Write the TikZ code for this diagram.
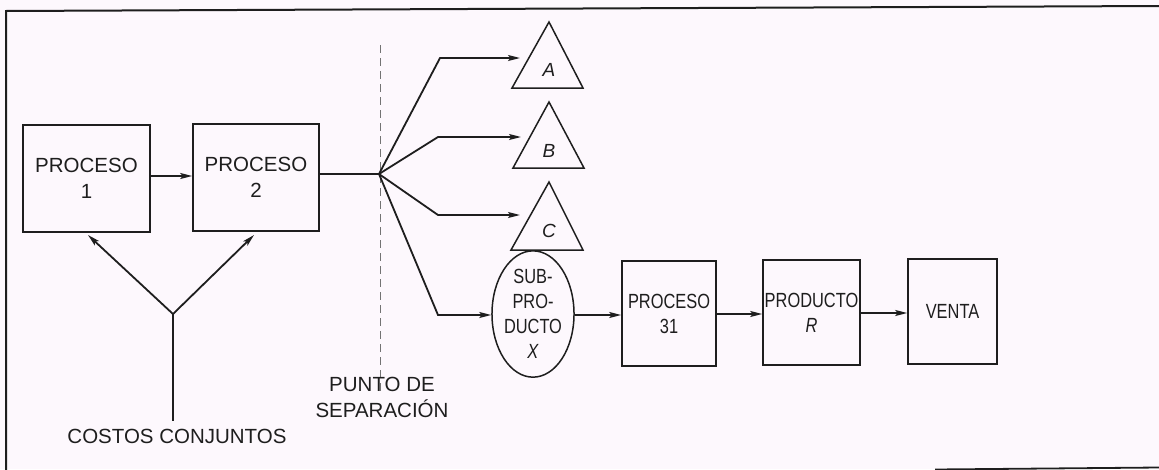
\documentclass[tikz,border=0pt]{standalone}
\usepackage{fontspec}
\setmainfont{Liberation Sans}
\newfontfamily\condfont[FakeStretch=0.8]{Liberation Sans}
\usetikzlibrary{arrows.meta,shapes.geometric}
\definecolor{bg}{RGB}{253,248,253}
\definecolor{ink}{RGB}{30,30,30}
\tikzset{
  box/.style={draw=ink, line width=1.6pt, minimum width=127pt, minimum height=107pt, inner sep=0pt, align=center, font=\fontsize{20.5}{26}\selectfont, text=ink},
  rbox/.style={draw=ink, line width=1.6pt, inner sep=0pt, align=center, font=\condfont\fontsize{20.5}{25}\selectfont, text=ink},
  con/.style={draw=ink, line width=1.8pt},
  arr/.style={con, -{Stealth[length=12pt,width=6pt,inset=2.5pt]}},
  lbl/.style={align=center, font=\fontsize{20.5}{26}\selectfont, text=ink, inner sep=0pt},
  tri/.style={draw=ink, line width=1.5pt, line join=miter},
  tlbl/.style={font=\itshape\fontsize{19}{22}\selectfont, text=ink, inner sep=0pt}
}
\begin{document}
\begin{tikzpicture}[x=1pt,y=-1pt]
\useasboundingbox (0,0) rectangle (1159,469);
\fill[bg] (0,0) rectangle (1159,469);
% frame
\draw[ink, line width=2pt] (6,470) -- (6,11) -- (1159,6);
\draw[ink, line width=1.8pt] (935,469.5) -- (1159,467.5);

% boxes
\node[box] (p1) at (86.5,178.5) {PROCESO\\1};
\node[box, minimum width=126pt] (p2) at (256,177.5) {PROCESO\\2};
\node[rbox, minimum width=94pt, minimum height=105pt] (p31) at (669,313.5) {PROCESO\\31};
\node[rbox, minimum width=97pt, minimum height=105pt] (pr) at (811.5,312.5) {PRODUCTO\\\textit{R}};
\node[rbox, minimum width=89pt, minimum height=105pt] (venta) at (952.5,311.5) {VENTA};
\node[ellipse, draw=ink, line width=1.5pt, minimum width=81pt, minimum height=105pt, inner sep=0pt, align=center, font=\condfont\fontsize{20.5}{25}\selectfont, text=ink] (x) at (533,314) {SUB-\\PRO-\\DUCTO\\\textit{X}};

% triangles
\draw[tri] (549,22) -- (583,88) -- (512,88) -- cycle;
\draw[tri] (549,102) -- (584,168) -- (513,168) -- cycle;
\draw[tri] (549,182) -- (583,250) -- (511,250) -- cycle;
\node[tlbl] (ta) at (549,70) {A};
\node[tlbl] (tb) at (549,151) {B};
\node[tlbl] (tc) at (549,231) {C};
\coordinate (ea) at (520,58);
\coordinate (eb) at (521,137);
\coordinate (ec) at (520,215);

% split point
\coordinate (sp) at (379,174);
\draw[black!55, line width=1pt, dash pattern=on 8pt off 5pt] (380,45) -- (380,394);

% connectors
\draw[arr] (p1.east |- 0,176) -- (p2.west |- 0,176);
\draw[con] (p2.east |- sp) -- (sp);
\draw[arr] (sp) -- (440,58) -- (ea);
\draw[arr] (sp) -- (438,137) -- (eb);
\draw[arr] (sp) -- (438,215) -- (ec);
\draw[arr] (sp) -- (438,315) -- (x.west |- 0,315);
\draw[arr] (x.east |- 0,315) -- (p31.west |- 0,315);
\draw[arr] (p31.east |- 0,314) -- (pr.west |- 0,314);
\draw[arr] (pr.east |- 0,313) -- (venta.west |- 0,313);

% costos conjuntos
\node[lbl, anchor=base] (cc) at (177,443) {COSTOS CONJUNTOS};
\coordinate (jn) at (173,314);
\draw[con] (jn) -- (173,421);
\draw[arr] (jn) -- (88,235);
\draw[arr] (jn) -- (254,235);
\node[lbl, anchor=base] (ps) at (382,417) {PUNTO DE\\SEPARACIÓN};
\end{tikzpicture}
\end{document}
